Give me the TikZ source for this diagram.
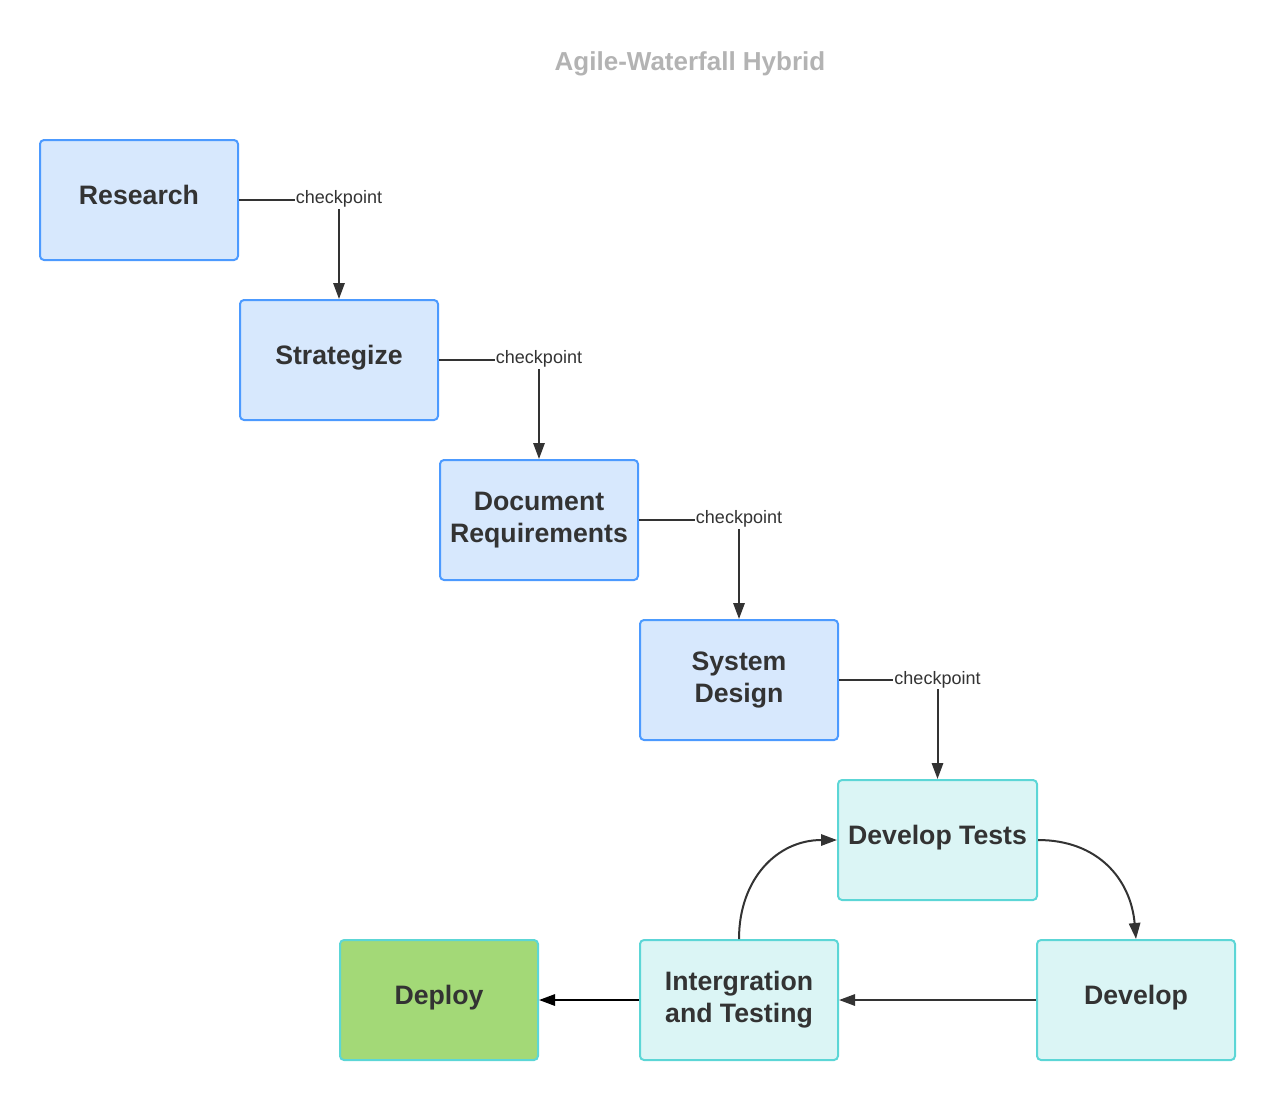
\documentclass[tikz,border=0pt]{standalone}
\usepackage{fontspec}
\setmainfont{Liberation Sans}
\usetikzlibrary{arrows.meta}
\definecolor{txt}{HTML}{333333}
\definecolor{bluefill}{HTML}{D7E8FD}
\definecolor{blueline}{HTML}{4C9AFF}
\definecolor{cyanfill}{HTML}{DBF5F5}
\definecolor{cyanline}{HTML}{5CD6D6}
\definecolor{greenfill}{HTML}{A3D977}
\definecolor{titlegray}{HTML}{B3B3B3}
\tikzset{
  box/.style={draw, line width=1.5pt, rounded corners=3pt, minimum width=148.5pt, minimum height=90pt,
    align=center, text=txt, font=\bfseries\fontsize{20}{24}\selectfont, inner sep=0pt},
  oneline/.style={text height=14pt, text depth=8pt},
  bluebox/.style={box, fill=bluefill, draw=blueline},
  cyanbox/.style={box, fill=cyanfill, draw=cyanline},
  greenbox/.style={box, fill=greenfill, draw=cyanline},
  conn/.style={line width=1.5pt, draw=txt, -{Triangle[length=12pt,width=8.5pt]}},
  chk/.style={fill=white, text=txt, font=\fontsize{13.5}{16}\selectfont, inner sep=1pt}
}
\begin{document}
\begin{tikzpicture}[x=0.75pt,y=-0.75pt]
\useasboundingbox (0,0) rectangle (1276,1100);
\node[text=titlegray, font=\bfseries\fontsize{19.5}{24}\selectfont] (title) at (690,64) {Agile-Waterfall Hybrid};

\node[bluebox, oneline] (research) at (139,200) {Research};
\node[bluebox, oneline] (strat) at (339,360) {Strategize};
\node[bluebox] (docreq) at (539,520) {Document\\Requirements};
\node[bluebox] (sysdes) at (739,680) {System\\Design};
\node[cyanbox, oneline, minimum width=149.25pt] (devtests) at (937.5,840) {Develop Tests};
\node[cyanbox, oneline] (develop) at (1136,1000) {Develop};
\node[cyanbox] (integ) at (739,1000) {Intergration\\and Testing};
\node[greenbox, oneline] (deploy) at (439,1000) {Deploy};

\draw[conn] (research.east) -| node[chk, pos=0.5, yshift=0.5pt] {checkpoint} (strat.north);
\draw[conn] (strat.east) -| node[chk, pos=0.5, yshift=0.5pt] {checkpoint} (docreq.north);
\draw[conn] (docreq.east) -| node[chk, pos=0.5, yshift=0.5pt] {checkpoint} (sysdes.north);
\draw[conn] (sysdes.east) -| node[chk, pos=0.5, yshift=0.5pt] {checkpoint} (devtests.north);

\draw[conn] (devtests.east) to[out=0, in=95, looseness=1.1] (develop.north);
\draw[conn] (develop.west) -- (integ.east);
\draw[conn] (integ.north) to[out=90, in=180, looseness=1.1] (devtests.west);
\draw[conn, draw=black] (integ.west) -- (deploy.east);
\end{tikzpicture}
\end{document}
